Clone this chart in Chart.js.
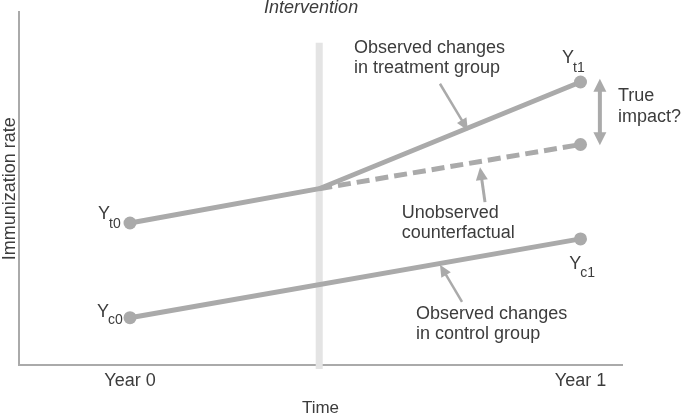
<!DOCTYPE html>
<html>
<head>
<meta charset="utf-8">
<script src="https://cdn.jsdelivr.net/npm/chart.js@4.4.0/dist/chart.umd.min.js"></script>
<style>
  body { margin: 0; background: #fff; }
</style>
</head>
<body>
<canvas id="myChart" width="685" height="414"></canvas>
<script>
// x: 0 = Year 0, 1 = Year 1; y: immunization rate (arbitrary units)
const tickValues = [0, 1];
const tickLabels = ['Year 0', 'Year 1'];
const interventionX = 0.42;

const treatmentX = [0, 0.42, 1];
const treatmentY = [40.3, 50, 80.2];

const counterfactualX = [0.42, 1];
const counterfactualY = [50, 62.5];

const controlX = [0, 1];
const controlY = [13.5, 35.8];

const interventionY = [-1, 91.3];

const GREY = '#aaaaaa';
const TEXT = '#3c3c3c';
const FONT = '"Liberation Sans", Arial, sans-serif';

function toPoints(xs, ys) {
    return xs.map((x, i) => ({ x: x, y: ys[i] }));
}

// Draws the labels and arrows on top of the chart
const annotations = {
    id: 'annotations',
    afterDatasetsDraw(chart) {
        const ctx = chart.ctx;
        const xs = chart.scales.x, ys = chart.scales.y;
        const px = v => xs.getPixelForValue(v);
        const py = v => ys.getPixelForValue(v);

        ctx.save();
        ctx.fillStyle = TEXT;
        ctx.textBaseline = 'alphabetic';

        function text(str, x, y, font, align) {
            ctx.font = font || ('18px ' + FONT);
            ctx.textAlign = align || 'left';
            ctx.fillText(str, px(x), py(y));
        }

        function ylabel(sub, x, y, dy) {
            ctx.font = '18px ' + FONT;
            ctx.textAlign = 'left';
            const x0 = px(x), y0 = py(y);
            ctx.fillText('Y', x0, y0);
            const w = ctx.measureText('Y').width;
            ctx.font = '14px ' + FONT;
            ctx.fillText(sub, x0 + w - 1, y0 + dy);
        }

        function head(x0, y0, x1, y1, len, wid) {
            const a = Math.atan2(y1 - y0, x1 - x0);
            ctx.beginPath();
            ctx.moveTo(x1, y1);
            ctx.lineTo(x1 - len * Math.cos(a) + wid / 2 * Math.sin(a), y1 - len * Math.sin(a) - wid / 2 * Math.cos(a));
            ctx.lineTo(x1 - len * Math.cos(a) - wid / 2 * Math.sin(a), y1 - len * Math.sin(a) + wid / 2 * Math.cos(a));
            ctx.closePath();
            ctx.fill();
        }

        function arrow(xa, ya, xb, yb, lw, len, wid) {
            const x0 = px(xa), y0 = py(ya), x1 = px(xb), y1 = py(yb);
            const a = Math.atan2(y1 - y0, x1 - x0);
            ctx.strokeStyle = GREY;
            ctx.fillStyle = GREY;
            ctx.lineWidth = lw;
            ctx.beginPath();
            ctx.moveTo(x0, y0);
            ctx.lineTo(x1 - (len - 1) * Math.cos(a), y1 - (len - 1) * Math.sin(a));
            ctx.stroke();
            head(x0, y0, x1, y1, len, wid);
        }

        // arrows
        arrow(0.688, 79.7, 0.750, 66.5, 2.5, 12, 11);
        arrow(0.788, 46.2, 0.777, 56.1, 3, 13, 12);
        arrow(0.737, 18.0, 0.688, 28.5, 2.5, 12, 11);

        // double arrow for the impact
        const dx = px(1.043), dTop = py(81.1), dBot = py(62.3);
        ctx.lineWidth = 4;
        ctx.beginPath();
        ctx.moveTo(dx, dTop + 10);
        ctx.lineTo(dx, dBot - 10);
        ctx.stroke();
        head(dx, dBot, dx, dTop, 13, 13);
        head(dx, dTop, dx, dBot, 13, 13);

        ctx.fillStyle = TEXT;
        text('Intervention', 0.402, 99.8, 'italic 18px ' + FONT, 'center');

        text('Observed changes', 0.497, 88.45);
        text('in treatment group', 0.497, 82.8);

        text('True', 1.083, 74.7);
        text('impact?', 1.083, 68.8);

        text('Unobserved', 0.603, 41.7);
        text('counterfactual', 0.603, 36.1);

        text('Observed changes', 0.635, 13.2);
        text('in control group', 0.635, 7.6);

        ylabel('t1', 0.959, 85.6, 8.7);
        ylabel('t0', -0.071, 41.4, 9);
        ylabel('c0', -0.073, 13.8, 7);
        ylabel('c1', 0.975, 27.3, 7.6);

        ctx.restore();
    }
};

const ctx = document.getElementById('myChart').getContext('2d');
const myChart = new Chart(ctx, {
    type: 'line',
    data: {
        datasets: [{
            label: 'Treatment',
            data: toPoints(treatmentX, treatmentY),
            borderColor: GREY,
            backgroundColor: GREY,
            borderWidth: 5,
            pointRadius: [6.5, 0, 6.5],
            pointBorderWidth: 0,
            order: 1
        }, {
            label: 'Counterfactual',
            data: toPoints(counterfactualX, counterfactualY),
            borderColor: GREY,
            backgroundColor: GREY,
            borderWidth: 5,
            borderDash: [13, 6],
            pointRadius: [0, 6.5],
            pointBorderWidth: 0,
            order: 2
        }, {
            label: 'Control',
            data: toPoints(controlX, controlY),
            borderColor: GREY,
            backgroundColor: GREY,
            borderWidth: 5,
            pointRadius: 6.5,
            pointBorderWidth: 0,
            order: 3
        }, {
            label: 'Intervention',
            data: toPoints([interventionX, interventionX], interventionY),
            borderColor: '#e4e4e4',
            borderWidth: 7,
            pointRadius: 0,
            clip: false,
            order: 10
        }]
    },
    options: {
        responsive: false,
        animation: false,
        layout: { padding: { top: 12, right: 63, bottom: -3, left: 0 } },
        plugins: {
            legend: { display: false },
            tooltip: { enabled: false }
        },
        scales: {
            x: {
                type: 'linear',
                min: -0.2464,
                max: 1.0921,
                grid: { display: false, drawTicks: false },
                border: { color: GREY, width: 2 },
                afterBuildTicks: scale => {
                    scale.ticks = tickValues.map(v => ({ value: v }));
                },
                ticks: {
                    padding: 5,
                    maxRotation: 0,
                    color: TEXT,
                    font: { family: FONT, size: 18 },
                    callback: v => tickLabels[tickValues.indexOf(v)]
                },
                title: {
                    display: true,
                    text: 'Time',
                    color: TEXT,
                    font: { family: FONT, size: 17, lineHeight: 1 },
                    padding: { top: 3, bottom: 0 }
                }
            },
            y: {
                min: 0,
                max: 100,
                grid: { display: false, drawTicks: false },
                border: { color: GREY, width: 2 },
                ticks: { display: false },
                title: {
                    display: true,
                    text: 'Immunization rate',
                    color: TEXT,
                    font: { family: FONT, size: 18, lineHeight: 1 },
                    padding: { top: 1, bottom: 0 }
                }
            }
        }
    },
    plugins: [annotations]
});
</script>
</body>
</html>
